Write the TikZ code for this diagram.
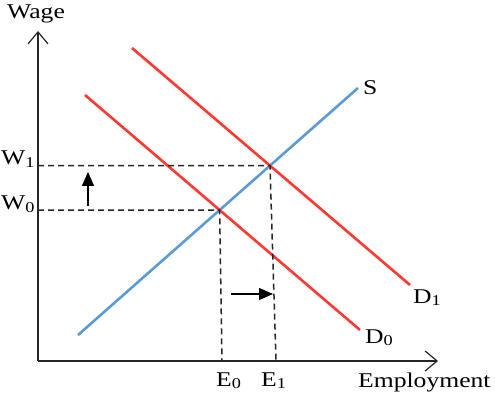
\documentclass[tikz,border=0pt]{standalone}
\usepackage{fontspec}
\setmainfont[FakeStretch=1.22]{Liberation Serif}
\usepackage{tikz}
\usetikzlibrary{
  arrows.meta,
  intersections
}
\definecolor{supplyblue}{RGB}{91,155,213}
\definecolor{demandred}{RGB}{255,56,48}
\newcommand{\lowidx}[1]{\raisebox{-0.3ex}{\fontsize{15}{15}\selectfont#1}}
\tikzset{
  axisline/.style={line width=1.5pt,black!85,-{Straight Barb[length=12pt,width=20pt,line width=1.2pt]}},
  supplyline/.style={line width=2.6pt,draw=supplyblue},
  demandline/.style={line width=2.6pt,draw=demandred},
  guideline/.style={line width=1.5pt,black!85,dash pattern=on 6pt off 4pt},
  shiftarrow/.style={line width=1.4pt,-{Triangle[length=14pt,width=12pt]}},
  axislabel/.style={anchor=base west,inner sep=0pt,font=\fontsize{21}{24}\selectfont}
}

\begin{document}
\begin{tikzpicture}[x=1pt,y=1pt]
  \useasboundingbox (0,0) rectangle (495,394);

  % axes
  \coordinate (origin) at (38,33);
  \coordinate (ytop) at (38,363);
  \coordinate (xend) at (438,33);
  \draw[axisline] (origin) -- (ytop);
  \draw[axisline] (origin) -- (xend);

  % supply and demand curves
  \coordinate (s0) at (78,59);   \coordinate (s1) at (358,306);
  \coordinate (da0) at (85,299); \coordinate (da1) at (360,64);
  \coordinate (db0) at (132,346);\coordinate (db1) at (410,109);
  \draw[supplyline,name path=supply] (s0) -- (s1);
  \draw[demandline,name path=dzero] (da0) -- (da1);
  \draw[demandline,name path=done] (db0) -- (db1);
  \path[name intersections={of=supply and dzero,by=eqzero}];
  \path[name intersections={of=supply and done,by=eqone}];

  % dashed guides
  \coordinate (ezero) at (222,33);
  \coordinate (eone) at (276,33);
  \draw[guideline] (origin |- eqzero) -- (eqzero) -- (ezero);
  \draw[guideline] (origin |- eqone) -- (eqone) -- (eone);

  % shifts
  \coordinate (upfrom) at (88,188); \coordinate (upto) at (88,222);
  \coordinate (rtfrom) at (231,100); \coordinate (rtto) at (273,100);
  \draw[shiftarrow] (upfrom) -- (upto);
  \draw[shiftarrow] (rtfrom) -- (rtto);

  % labels
  \node[axislabel] (wage) at (7,375) {Wage};
  \node[axislabel] (wone) at (1,229) {W\lowidx{1}};
  \node[axislabel] (wzero) at (1,184) {W\lowidx{0}};
  \node[axislabel] (ezerolab) at (216,8) {E\lowidx{0}};
  \node[axislabel] (eonelab) at (261,8) {E\lowidx{1}};
  \node[axislabel] (employ) at (358,7) {Employment};
  \node[axislabel] (slab) at (363,299) {S};
  \node[axislabel] (donelab) at (413,91) {D\lowidx{1}};
  \node[axislabel] (dzerolab) at (365,51) {D\lowidx{0}};
\end{tikzpicture}
\end{document}
